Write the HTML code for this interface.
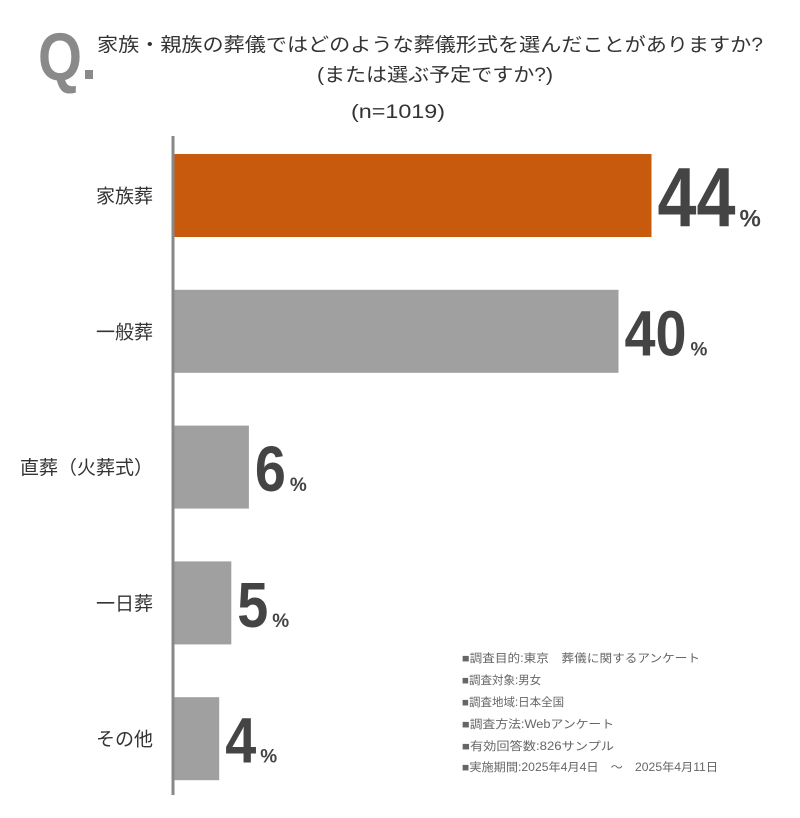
<!DOCTYPE html>
<html><head><meta charset="utf-8">
<style>
html,body{margin:0;padding:0;background:#fff;}
svg{display:block;font-family:"Liberation Sans","Noto Sans CJK JP",sans-serif;}
</style></head>
<body>
<svg id="chart" width="800" height="818" viewBox="0 0 800 818">
  <text x="38" y="80" font-size="68" font-weight="bold" fill="#8a8a8a" textLength="44" lengthAdjust="spacingAndGlyphs">Q</text>
  <rect x="85" y="70" width="8" height="9" fill="#8a8a8a"/>
  <text x="97" y="51" font-size="19" fill="#333" textLength="666" lengthAdjust="spacingAndGlyphs">家族・親族の葬儀ではどのような葬儀形式を選んだことがありますか?</text>
  <text x="435" y="81" font-size="19" fill="#333" text-anchor="middle" textLength="236" lengthAdjust="spacingAndGlyphs">(または選ぶ予定ですか?)</text>
  <text x="398" y="118" font-size="19" fill="#333" text-anchor="middle" textLength="94" lengthAdjust="spacingAndGlyphs">(n=1019)</text>
  <g id="bars"></g>
  <line x1="173" y1="136" x2="173" y2="795" stroke="#888" stroke-width="3"/>
  <g font-size="11.5" fill="#666">
    <text x="462" y="662" textLength="238" lengthAdjust="spacingAndGlyphs">■調査目的:東京　葬儀に関するアンケート</text>
    <text x="462" y="684">■調査対象:男女</text>
    <text x="462" y="706">■調査地域:日本全国</text>
    <text x="462" y="728" textLength="152" lengthAdjust="spacingAndGlyphs">■調査方法:Webアンケート</text>
    <text x="462" y="750" textLength="152" lengthAdjust="spacingAndGlyphs">■有効回答数:826サンプル</text>
    <text x="462" y="771" textLength="256" lengthAdjust="spacingAndGlyphs">■実施期間:2025年4月4日　～　2025年4月11日</text>
  </g>
</svg>
<script>
const categories = ["家族葬","一般葬","直葬（火葬式）","一日葬","その他"];
const values = [43.5, 40.5, 6.9, 5.3, 4.2];
const valueLabels = ["44","40","6","5","4"];
const colors = ["#c85a0e","#a0a0a0","#a0a0a0","#a0a0a0","#a0a0a0"];
const NS = "http://www.w3.org/2000/svg";
const x0 = 173, scale = 11;
function xs(v){ return x0 + v*scale; }
function ys(i){ return 154 + i*135.8; }
const barH = 83;
const g = document.getElementById("bars");
categories.forEach((c,i)=>{
  const r = document.createElementNS(NS,"rect");
  
  
  r.setAttribute("x", x0); r.setAttribute("y", ys(i));
  r.setAttribute("width", xs(values[i])-x0); r.setAttribute("height", barH);
  r.setAttribute("fill", colors[i]);
  g.appendChild(r);
  const t = document.createElementNS(NS,"text");
  
  
  t.setAttribute("x", 153); t.setAttribute("y", ys(i)+barH/2+7);
  t.setAttribute("text-anchor","end"); t.setAttribute("font-size","19"); t.setAttribute("fill","#333");
  t.textContent = c;
  g.appendChild(t);
  const big = i===0;
  const fs = big ? 84 : 64;
  const digitW = big ? 39 : 31;
  const v = document.createElementNS(NS,"text");
  
  
  const vx = xs(values[i]) + 6;
  const w = digitW*valueLabels[i].length;
  const by = ys(i)+barH/2+(big?31:24);
  v.setAttribute("x", vx); v.setAttribute("y", by);
  v.setAttribute("font-size", fs); v.setAttribute("font-weight","bold"); v.setAttribute("fill","#444");
  v.setAttribute("textLength", w); v.setAttribute("lengthAdjust","spacingAndGlyphs");
  v.textContent = valueLabels[i];
  g.appendChild(v);
  const p = document.createElementNS(NS,"text");
  
  
  p.setAttribute("x", vx + w + 4); p.setAttribute("y", by);
  p.setAttribute("font-size", big?24:19); p.setAttribute("font-weight","bold"); p.setAttribute("fill","#444");
  p.textContent = "%";
  g.appendChild(p);
});
</script>
</body></html>
